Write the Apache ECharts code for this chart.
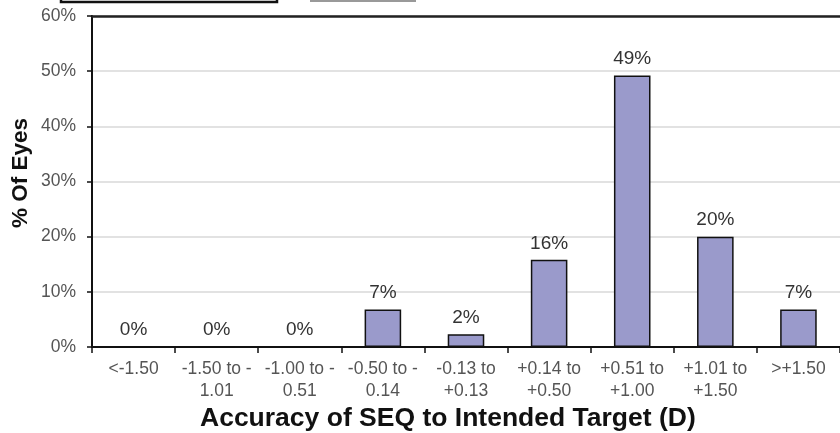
<!DOCTYPE html>
<html>
<head>
<meta charset="utf-8">
<script src="https://cdn.jsdelivr.net/npm/echarts@6/dist/echarts.min.js"></script>
<style>
  html, body { margin: 0; padding: 0; background: #fff; }
  #chart { width: 840px; height: 433px; }
</style>
</head>
<body>
<div id="chart"></div>
<script>
// categories (accuracy bins, D)
var categories = [
  '<-1.50', '-1.50 to -\n1.01', '-1.00 to -\n0.51', '-0.50 to -\n0.14',
  '-0.13 to\n+0.13', '+0.14 to\n+0.50', '+0.51 to\n+1.00', '+1.01 to\n+1.50', '>+1.50'
];
// % of eyes
var percentEyes = [0, 0, 0, 6.8, 2.3, 15.8, 49.2, 20.0, 6.8];
var yTicks = [0, 10, 20, 30, 40, 50, 60];

var chart = echarts.init(document.getElementById('chart'));

var option = {
  animation: false,
  textStyle: { fontFamily: 'Liberation Sans, Arial, sans-serif' },
  grid: { left: 92, right: -2, top: 16, bottom: 86 },
  xAxis: [{
    type: 'category',
    data: categories,
    axisLine: { lineStyle: { color: '#111', width: 2 } },
    axisTick: { show: true, length: 6, lineStyle: { color: '#111', width: 1.5 } },
    axisLabel: { color: '#555', fontSize: 17.5, lineHeight: 22, margin: 11, interval: 0 }
  }, {
    type: 'category',
    position: 'top',
    data: categories,
    axisLine: { lineStyle: { color: '#222', width: 2.5 } },
    axisTick: { show: false },
    axisLabel: { show: false }
  }],
  yAxis: {
    type: 'value',
    min: yTicks[0],
    max: yTicks[yTicks.length - 1],
    interval: 10,
    axisLine: { show: true, lineStyle: { color: '#111', width: 2 } },
    axisTick: { show: true, length: 5, lineStyle: { color: '#111', width: 1.5 } },
    axisLabel: { color: '#555', fontSize: 17.5, margin: 16, formatter: '{value}%' },
    splitLine: { lineStyle: { color: '#d9d9d9', width: 1.5 } }
  },
  series: [{
    type: 'bar',
    data: percentEyes,
    barWidth: '44%',
    itemStyle: { color: '#9a9acb', borderColor: '#111', borderWidth: 1.5 },
    label: {
      show: true,
      position: 'top',
      distance: 7,
      color: '#333',
      fontSize: 19,
      formatter: function (p) { return Math.round(p.value) + '%'; }
    }
  }],
  graphic: [
    { type: 'rect', shape: { x: 61, y: -20, width: 216, height: 22 },
      style: { fill: 'none', stroke: '#111', lineWidth: 2.5 } },
    { type: 'line', shape: { x1: 310, y1: 1, x2: 416, y2: 1 },
      style: { stroke: '#999', lineWidth: 2 } },
    { type: 'text', left: 200, top: 405,
      style: { text: 'Accuracy of SEQ to Intended Target (D)', fill: '#111',
        font: 'bold 26.5px Liberation Sans, Arial, sans-serif' } },
    { type: 'text', x: 21, y: 173, rotation: Math.PI / 2, origin: [0, 0],
      style: { text: '% Of Eyes', fill: '#111', align: 'center', verticalAlign: 'middle',
        font: 'bold 22.5px Liberation Sans, Arial, sans-serif' } }
  ]
};

chart.setOption(option);
</script>
</body>
</html>
